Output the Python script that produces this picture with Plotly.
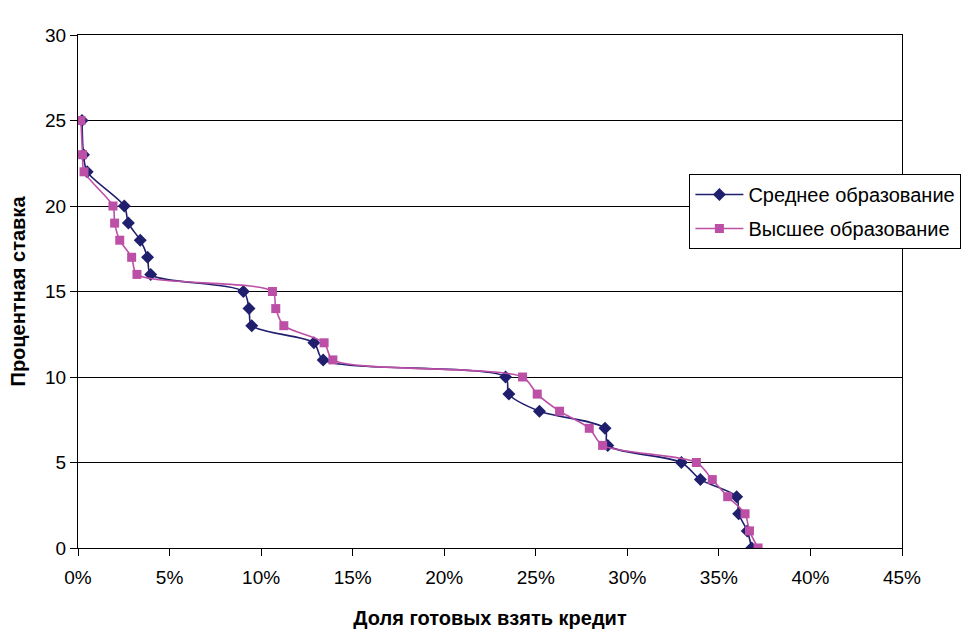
import plotly.graph_objects as go

rates = [25, 23, 22, 20, 19, 18, 17, 16, 15, 14, 13, 12, 11, 10, 9, 8, 7, 6, 5, 4, 3, 2, 1, 0]

secondary = [0.22, 0.3, 0.5, 2.53, 2.75, 3.4, 3.8, 3.97, 9.03, 9.34, 9.49, 12.88, 13.39,
             23.35, 23.53, 25.2, 28.78, 28.93, 32.95, 33.99, 35.97, 36.08, 36.55, 36.79]
higher = [0.16, 0.25, 0.33, 1.91, 2.0, 2.28, 2.93, 3.22, 10.62, 10.8, 11.24, 13.44, 13.92,
          24.28, 25.08, 26.3, 27.92, 28.65, 33.77, 34.64, 35.48, 36.43, 36.67, 37.14]

x_ticks = [0, 5, 10, 15, 20, 25, 30, 35, 40, 45]
y_ticks = [0, 5, 10, 15, 20, 25, 30]

navy = "#1F1F6E"
pink = "#BC4FA6"

fig = go.Figure()
fig.add_trace(go.Scatter(
    x=secondary, y=rates, mode="lines+markers", name="Среднее образование",
    legendgroup="a",
    line=dict(color=navy, width=1.6, shape="spline", smoothing=0.8),
    marker=dict(symbol="diamond", size=10, color=navy),
))
fig.add_trace(go.Scatter(
    x=higher, y=rates, mode="lines+markers", name="Высшее образование",
    legendgroup="b",
    line=dict(color=pink, width=1.6, shape="spline", smoothing=0.8),
    marker=dict(symbol="square", size=9, color=pink),
))

font_family = "Liberation Sans, Arial, sans-serif"
fig.update_layout(
    width=963, height=631,
    margin=dict(l=78, r=61, t=35, b=83, autoexpand=False),
    paper_bgcolor="white", plot_bgcolor="white",
    font=dict(family=font_family, size=19, color="black"),
    showlegend=True,
    legend=dict(
        x=0.742, y=0.729, xanchor="left", yanchor="top",
        bgcolor="white", bordercolor="black", borderwidth=1,
        font=dict(size=20, family=font_family, color="black"),
        tracegroupgap=5, itemwidth=48,
    ),
    xaxis=dict(
        range=[0, 45], tickvals=x_ticks, ticktext=[f"{v}%" for v in x_ticks],
        showgrid=False, zeroline=False,
        showline=True, linecolor="black", linewidth=1, mirror=True,
        ticks="outside", ticklen=7, tickcolor="black",
        tickfont=dict(size=19), ticklabelstandoff=5,
        title=dict(text="<b>Доля готовых взять кредит</b>", font=dict(size=20), standoff=24),
    ),
    yaxis=dict(
        range=[0, 30], tickvals=y_ticks,
        showgrid=True, gridcolor="black", gridwidth=1, zeroline=False,
        showline=True, linecolor="black", linewidth=1, mirror=True,
        ticks="outside", ticklen=7, tickcolor="black",
        tickfont=dict(size=19),
        title=dict(text="<b>Процентная ставка</b>", font=dict(size=20), standoff=14),
    ),
)

fig.write_html("out.html")
